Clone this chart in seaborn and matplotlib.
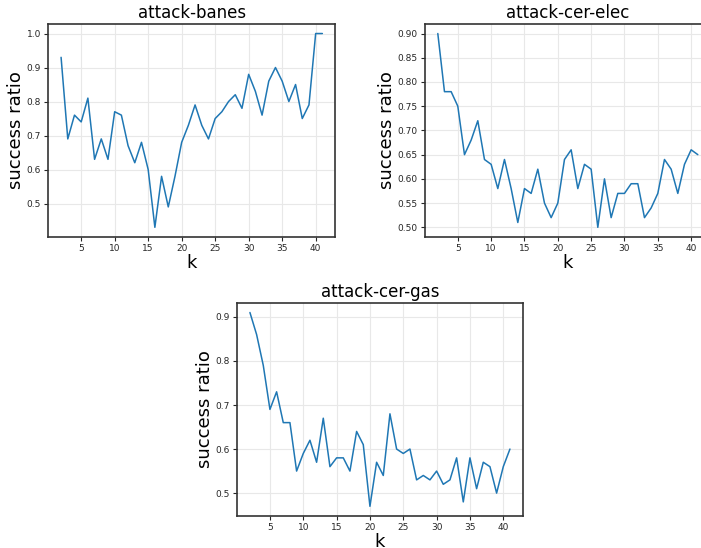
import numpy as np
import pandas as pd
import seaborn as sb
import matplotlib
matplotlib.use("Agg")
import matplotlib.pyplot as plt

k = list(range(2, 42))

banes = [0.93, 0.69, 0.76, 0.74, 0.81, 0.63, 0.69, 0.63, 0.77, 0.76,
         0.67, 0.62, 0.68, 0.60, 0.43, 0.58, 0.49, 0.58, 0.68, 0.73,
         0.79, 0.73, 0.69, 0.75, 0.77, 0.80, 0.82, 0.78, 0.88, 0.83,
         0.76, 0.86, 0.90, 0.86, 0.80, 0.85, 0.75, 0.79, 1.00, 1.00]

cer_elec = [0.90, 0.78, 0.78, 0.75, 0.65, 0.68, 0.72, 0.64, 0.63, 0.58,
            0.64, 0.58, 0.51, 0.58, 0.57, 0.62, 0.55, 0.52, 0.55, 0.64,
            0.66, 0.58, 0.63, 0.62, 0.50, 0.60, 0.52, 0.57, 0.57, 0.59,
            0.59, 0.52, 0.54, 0.57, 0.64, 0.62, 0.57, 0.63, 0.66, 0.65]

cer_gas = [0.91, 0.86, 0.79, 0.69, 0.73, 0.66, 0.66, 0.55, 0.59, 0.62,
           0.57, 0.67, 0.56, 0.58, 0.58, 0.55, 0.64, 0.61, 0.47, 0.57,
           0.54, 0.68, 0.60, 0.59, 0.60, 0.53, 0.54, 0.53, 0.55, 0.52,
           0.53, 0.58, 0.48, 0.58, 0.51, 0.57, 0.56, 0.50, 0.56, 0.60]

titles = ["attack-banes", "attack-cer-elec", "attack-cer-gas"]

sb.set_style("whitegrid", {"axes.edgecolor": "#333333", "grid.color": "#e8e8e8",
                           "xtick.bottom": True, "ytick.left": True,
                           "text.color": "black", "axes.labelcolor": "black"})
plt.rcParams["font.family"] = ["DejaVu Sans"]

fig = plt.figure(figsize=(7.01, 5.48), dpi=100)
positions = [[0.0685, 0.5675, 0.41, 0.389],
             [0.606, 0.5675, 0.408, 0.389],
             [0.338, 0.0584, 0.408, 0.389]]

for pos, title, vals in zip(positions, titles, [banes, cer_elec, cer_gas]):
    ax = fig.add_axes(pos)
    df = pd.DataFrame({"k": k, "ratio": vals})
    sb.lineplot(data=df, x="k", y="ratio", ax=ax, color="#1f77b4", linewidth=1.1)
    ax.set_title(title, fontsize=12, pad=4)
    ax.set_xlabel("k", fontsize=13, labelpad=1)
    ax.set_ylabel("success ratio", fontsize=13, labelpad=1)
    ax.set_xticks([5, 10, 15, 20, 25, 30, 35, 40])
    ax.tick_params(labelsize=6.5, length=3, width=0.8, pad=2)
    for s in ax.spines.values():
        s.set_linewidth(1.2)

fig.savefig("out.png", dpi=100)
